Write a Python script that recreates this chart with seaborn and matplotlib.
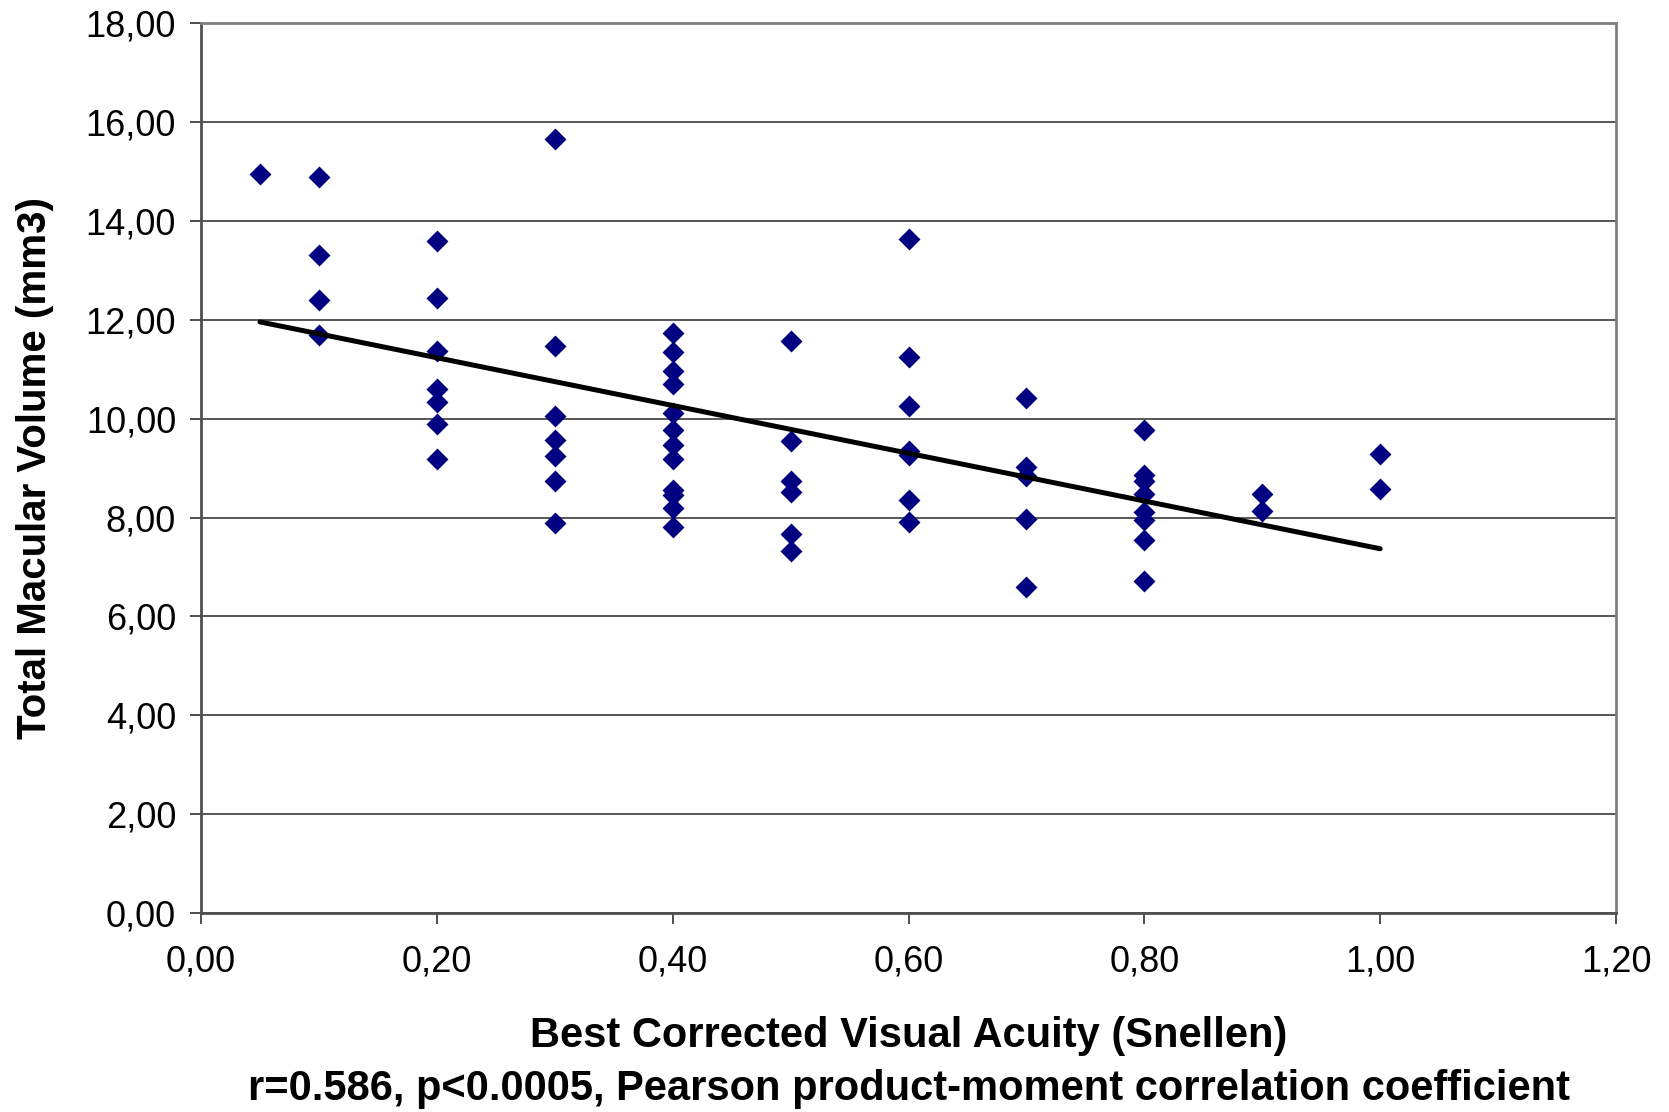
import matplotlib
matplotlib.use("Agg")
import matplotlib.pyplot as plt
import seaborn as sns
import pandas as pd
from matplotlib.ticker import FuncFormatter, FixedLocator

# ---- data ----
acuity_05 = [0.05]
volume_05 = [14.95]
acuity_10 = [0.1] * 4
volume_10 = [14.90, 13.32, 12.40, 11.70]
acuity_20 = [0.2] * 7
volume_20 = [13.59, 12.45, 11.37, 10.61, 10.33, 9.89, 9.18]
acuity_30 = [0.3] * 7
volume_30 = [15.67, 11.47, 10.06, 9.57, 9.24, 8.75, 7.89]
acuity_40 = [0.4] * 12
volume_40 = [11.74, 11.36, 10.97, 10.70, 10.11, 9.78, 9.46, 9.19, 8.55, 8.46, 8.20, 7.82]
acuity_50 = [0.5] * 6
volume_50 = [11.57, 9.55, 8.74, 8.51, 7.66, 7.32]
acuity_60 = [0.6] * 7
volume_60 = [13.64, 11.24, 10.26, 9.35, 9.26, 8.36, 7.92]
acuity_70 = [0.7] * 5
volume_70 = [10.42, 9.03, 8.84, 7.97, 6.60]
acuity_80 = [0.8] * 8
volume_80 = [9.78, 8.87, 8.74, 8.47, 8.11, 7.95, 7.54, 6.72]
acuity_90 = [0.9] * 2
volume_90 = [8.47, 8.14]
acuity_100 = [1.0] * 2
volume_100 = [9.29, 8.58]

# regression line end points
trend_x = [0.05, 1.0]
trend_y = [11.96, 7.37]

x_ticks = [0.0, 0.2, 0.4, 0.6, 0.8, 1.0, 1.2]
y_ticks = [0, 2, 4, 6, 8, 10, 12, 14, 16, 18]

x_label = "Best Corrected Visual Acuity (Snellen)"
x_label2 = "r=0.586, p<0.0005, Pearson product-moment correlation coefficient"
y_label = "Total Macular Volume (mm3)"

acuity = (acuity_05 + acuity_10 + acuity_20 + acuity_30 + acuity_40 + acuity_50 +
          acuity_60 + acuity_70 + acuity_80 + acuity_90 + acuity_100)
volume = (volume_05 + volume_10 + volume_20 + volume_30 + volume_40 + volume_50 +
          volume_60 + volume_70 + volume_80 + volume_90 + volume_100)
df = pd.DataFrame({"acuity": acuity, "volume": volume})
trend = pd.DataFrame({"x": trend_x, "y": trend_y})

# ---- styling ----
sns.set_style("white")
plt.rcParams["font.family"] = ["Liberation Sans", "DejaVu Sans"]
plt.rcParams["text.color"] = "black"
plt.rcParams["axes.labelcolor"] = "black"

fig = plt.figure(figsize=(16.69, 11.12), dpi=100)
ax = fig.add_axes([201 / 1669, 1 - 913 / 1112, (1616 - 201) / 1669, (913 - 23.4) / 1112])

ax.set_axisbelow(True)
ax.yaxis.grid(True, color="#3a3a3a", linewidth=1.2)
ax.xaxis.grid(False)

sns.scatterplot(data=df, x="acuity", y="volume", ax=ax, marker="D", s=125,
                color="#000080", edgecolor="#000080", linewidth=0, zorder=3, legend=False)
sns.lineplot(data=trend, x="x", y="y", ax=ax, color="black", linewidth=3.6,
             zorder=4, legend=False)

ax.set_xlim(0, 1.2)
ax.set_ylim(0, 18)
ax.xaxis.set_major_locator(FixedLocator(x_ticks))
ax.yaxis.set_major_locator(FixedLocator(y_ticks))
ax.xaxis.set_major_formatter(FuncFormatter(lambda v, p: f"{v:.2f}".replace(".", ",")))
ax.yaxis.set_major_formatter(FuncFormatter(lambda v, p: f"{v:.2f}".replace(".", ",")))

ax.tick_params(axis="both", which="major", direction="out", length=8, width=1.3,
               color="#404040", labelsize=26, labelcolor="black")
ax.tick_params(axis="y", pad=10)
ax.tick_params(axis="x", pad=15)
ax.tick_params(left=True, bottom=True)

for side, sp in ax.spines.items():
    sp.set_visible(True)
    sp.set_color("#808080")
    sp.set_linewidth(2)
ax.spines["left"].set_color("#505050")
ax.spines["bottom"].set_color("#505050")

ax.set_xlabel(x_label, fontsize=30, fontweight="bold", color="black")
ax.xaxis.set_label_coords(0.5, -0.138)
ax.xaxis.label.set_va("center")
ax.text(0.5, -0.198, x_label2, transform=ax.transAxes, ha="center", va="center",
        fontsize=30, fontweight="bold", color="black")

ax.set_ylabel(y_label, fontsize=29, fontweight="bold", color="black")
ax.yaxis.set_label_coords(-0.117, 0.5)
ax.yaxis.label.set_va("center")

fig.savefig("out.png", dpi=100, facecolor="white")
